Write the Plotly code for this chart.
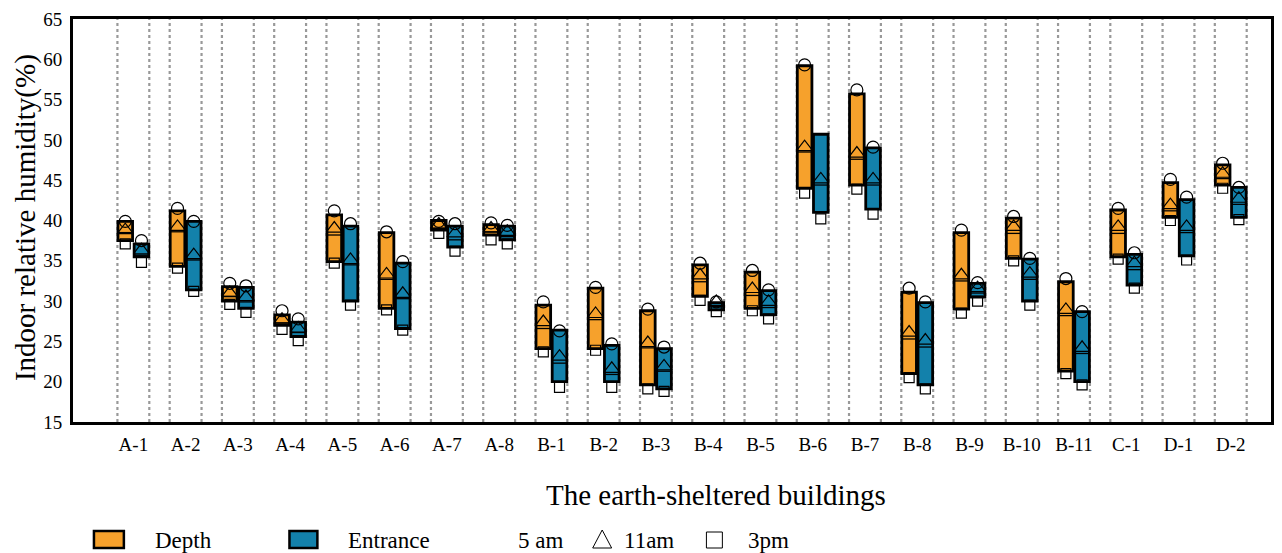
import plotly.graph_objects as go

buildings = ["A-1", "A-2", "A-3", "A-4", "A-5", "A-6", "A-7", "A-8",
             "B-1", "B-2", "B-3", "B-4", "B-5", "B-6", "B-7", "B-8",
             "B-9", "B-10", "B-11", "C-1", "D-1", "D-2"]

# Depth (orange)
depth_high = [39.9, 41.2, 31.8, 28.3, 40.7, 38.5, 40.0, 39.5, 29.5, 31.6, 28.8,
              34.5, 33.6, 59.2, 55.7, 31.1, 38.5, 40.3, 32.4, 41.3, 44.7, 46.9]
depth_low = [37.5, 34.3, 30.0, 27.0, 34.9, 29.1, 38.8, 38.2, 24.1, 24.1, 19.6,
             30.6, 29.1, 44.0, 44.4, 21.0, 29.0, 35.3, 21.3, 35.5, 40.4, 44.4]
depth_mid = [38.5, 38.6, 30.6, 27.3, 38.2, 32.7, 39.0, 38.6, 26.6, 27.7, 24.2,
             32.4, 30.7, 48.5, 47.6, 25.3, 32.5, 38.4, 28.2, 38.4, 41.2, 45.2]
depth_5am = [39.9, 41.5, 32.2, 28.8, 41.2, 38.6, 39.9, 39.7, 29.9, 31.7, 29.0,
             34.7, 33.8, 59.3, 56.2, 31.6, 38.8, 40.5, 32.8, 41.5, 45.1, 47.1]
depth_11am = [38.8, 39.2, 31.0, 27.7, 39.0, 33.3, 39.5, 39.0, 27.4, 28.4, 24.8,
              33.2, 31.5, 49.1, 48.3, 26.1, 33.2, 39.2, 28.9, 39.2, 41.9, 45.8]
depth_3pm = [37.1, 34.1, 29.6, 26.5, 34.7, 28.9, 38.4, 37.6, 23.7, 23.9, 19.1,
             30.1, 28.8, 43.4, 43.9, 20.5, 28.5, 35.0, 21.0, 35.2, 40.0, 44.0]

# Entrance (blue)
ent_high = [37.1, 39.9, 31.7, 27.4, 39.3, 34.7, 39.3, 39.3, 26.4, 24.5, 24.1,
            29.8, 31.3, 50.7, 49.0, 29.8, 32.2, 35.2, 28.7, 35.8, 42.6, 44.1]
ent_low = [35.5, 31.4, 29.1, 25.6, 30.0, 26.6, 36.7, 37.6, 20.0, 20.0, 19.1,
           28.9, 28.3, 41.0, 41.4, 19.6, 30.5, 30.0, 20.0, 32.0, 35.6, 40.4]
ent_mid = [35.7, 35.1, 29.9, 26.1, 34.5, 30.3, 37.6, 38.0, 22.3, 20.9, 21.3,
           29.3, 29.2, 44.4, 44.4, 24.3, 31.0, 32.7, 23.5, 33.9, 38.5, 42.0]
ent_5am = [37.5, 39.9, 31.9, 27.8, 39.6, 34.9, 39.6, 39.4, 26.3, 24.7, 24.3,
           29.9, 31.4, None, 49.1, 29.9, 32.3, 35.3, 28.7, 36.0, 42.9, 44.1]
ent_11am = [36.3, 35.7, 30.5, 26.6, 35.1, 30.9, 38.4, 38.6, 23.1, 21.6, 21.9,
            29.9, 29.9, 45.1, 45.1, 25.1, 31.6, 33.4, 24.2, 34.7, 39.2, 42.7]
ent_3pm = [34.8, 31.2, 28.6, 25.1, 29.5, 26.4, 36.2, 37.1, 19.3, 19.3, 18.8,
           28.7, 27.8, 40.2, 40.8, 19.1, 30.0, 29.5, 19.6, 31.6, 35.1, 40.1]

y_ticks = [15, 20, 25, 30, 35, 40, 45, 50, 55, 60, 65]

ORANGE = "#F6A12C"
BLUE = "#1381AB"
FONT = "Liberation Serif"

idx = list(range(len(buildings)))
OFF = 0.155
BW = 0.28

fig = go.Figure()

series = [
    ("Depth", -OFF, ORANGE, depth_high, depth_low, depth_mid, depth_5am, depth_11am, depth_3pm),
    ("Entrance", OFF, BLUE, ent_high, ent_low, ent_mid, ent_5am, ent_11am, ent_3pm),
]

for name, off, col, hi, lo, mid, v5, v11, v3 in series:
    xs = [i + off for i in idx]
    fig.add_trace(go.Bar(
        x=xs, base=lo, y=[h - l for h, l in zip(hi, lo)], width=BW,
        marker=dict(color=col, line=dict(color="black", width=2.8)),
        name=name, showlegend=False, hoverinfo="skip"))

for name, off, col, hi, lo, mid, v5, v11, v3 in series:
    xs = [i + off for i in idx]
    lx, ly = [], []
    for x, m in zip(xs, mid):
        lx += [x - BW / 2, x + BW / 2, None]
        ly += [m, m, None]
    fig.add_trace(go.Scatter(x=lx, y=ly, mode="lines",
                             line=dict(color="black", width=1.3),
                             showlegend=False, hoverinfo="skip"))
    fig.add_trace(go.Scatter(x=xs, y=v5, mode="markers",
                             marker=dict(symbol="circle-open", size=12,
                                         line=dict(color="black", width=1.2), color="black"),
                             showlegend=False))
    fig.add_trace(go.Scatter(x=xs, y=v11, mode="markers",
                             marker=dict(symbol="triangle-up-open", size=14,
                                         line=dict(color="black", width=1.2), color="black"),
                             showlegend=False))
    fig.add_trace(go.Scatter(x=xs, y=v3, mode="markers",
                             marker=dict(symbol="square-open", size=10,
                                         line=dict(color="black", width=1.2), color="black"),
                             showlegend=False))

shapes = []
for i in idx:
    for dx in (-0.305, 0.305):
        shapes.append(dict(type="line", xref="x", yref="paper", x0=i + dx, x1=i + dx,
                           y0=0, y1=1, layer="below",
                           line=dict(color="#999999", width=2.2, dash="dot")))

# Legend (manual)
L, R, T, B = 73, 1274, 19, 422
W, H = R - L, B - T


def px(x):
    return (x - L) / W


def py(y):
    return (B - y) / H


shapes.append(dict(type="rect", xref="paper", yref="paper", x0=px(94), x1=px(124),
                   y0=py(548), y1=py(531), fillcolor=ORANGE, line=dict(color="black", width=2.5)))
shapes.append(dict(type="rect", xref="paper", yref="paper", x0=px(290), x1=px(318),
                   y0=py(548), y1=py(531), fillcolor=BLUE, line=dict(color="black", width=2.5)))
shapes.append(dict(type="path", xref="paper", yref="paper",
                   path=f"M {px(594)},{py(548)} L {px(613)},{py(548)} L {px(603.5)},{py(530)} Z",
                   line=dict(color="black", width=1)))
shapes.append(dict(type="rect", xref="paper", yref="paper", x0=px(708), x1=px(724),
                   y0=py(548), y1=py(532), line=dict(color="black", width=1)))

annotations = []
for txt, x in [("Depth", 153), ("Entrance", 347), ("5 am", 517), ("11am", 623), ("3pm", 748)]:
    annotations.append(dict(text=txt, xref="paper", yref="paper", x=px(x), y=py(540),
                            xanchor="left", yanchor="middle", showarrow=False,
                            font=dict(family=FONT, size=23, color="black")))
annotations.append(dict(text="The earth-sheltered buildings", xref="paper", yref="paper",
                        x=px(718), y=py(495), xanchor="center", yanchor="middle",
                        showarrow=False, font=dict(family=FONT, size=29, color="black")))
annotations.append(dict(text="Indoor relative humidity(%)", xref="paper", yref="paper",
                        x=px(25), y=py(218), xanchor="center", yanchor="middle",
                        textangle=-90, showarrow=False,
                        font=dict(family=FONT, size=29, color="black")))

fig.update_layout(
    width=1282, height=553,
    margin=dict(l=L, r=1282 - R, t=T, b=553 - B),
    paper_bgcolor="white", plot_bgcolor="white",
    barmode="overlay", showlegend=False,
    shapes=shapes, annotations=annotations,
    font=dict(family=FONT, color="black"),
    xaxis=dict(range=[-1.155, 21.77], tickmode="array", tickvals=idx, ticktext=buildings,
               showgrid=False, zeroline=False, showline=True, mirror=True,
               linecolor="black", linewidth=3, ticks="", ticklabelstandoff=3,
               tickfont=dict(family=FONT, size=19, color="black")),
    yaxis=dict(range=[15, 65], tickmode="array", tickvals=y_ticks,
               showgrid=False, zeroline=False, showline=True, mirror=True,
               linecolor="black", linewidth=3, ticks="", ticklabelstandoff=4,
               tickfont=dict(family=FONT, size=19, color="black")),
)

fig.write_html("out.html")
